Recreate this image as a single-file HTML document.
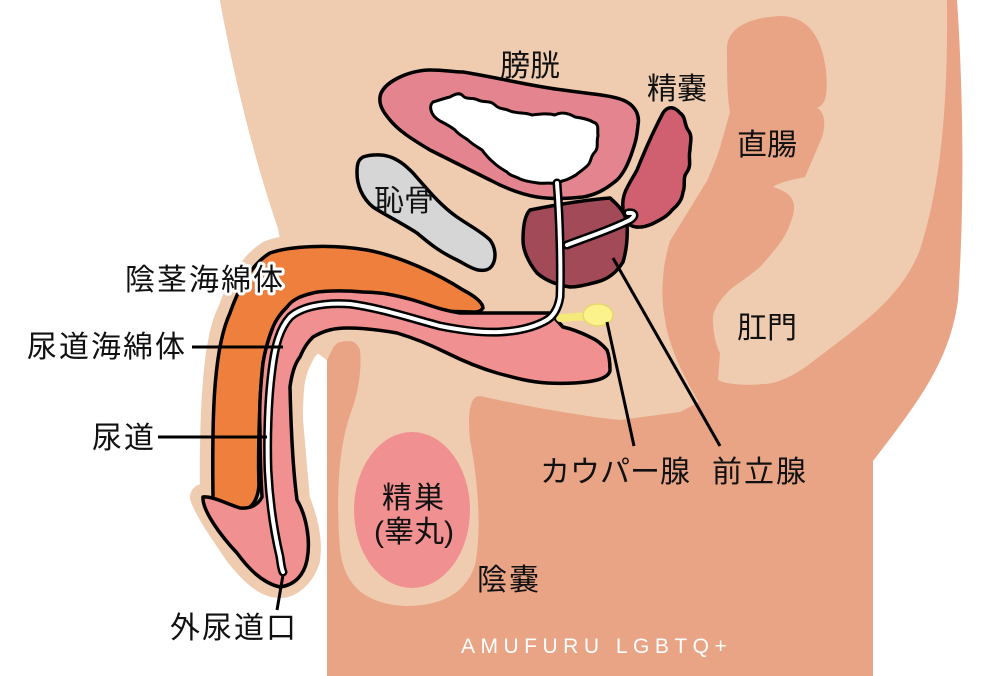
<!DOCTYPE html>
<html><head><meta charset="utf-8"><style>
html,body{margin:0;padding:0;background:#fff;}
svg{display:block;}
text{font-family:"Liberation Sans","Noto Sans CJK JP",sans-serif;font-size:30px;fill:#111;}
.wo{stroke:#fff;stroke-width:6px;paint-order:stroke;stroke-linejoin:round;}
</style></head><body>
<svg width="1000" height="676" viewBox="0 0 1000 676" xmlns="http://www.w3.org/2000/svg">
<path d="M220,0 L957,0 C963,90 965,200 958,300 C950,360 920,400 873,461 L873,676 L327,676 L327,360 L300,340 L278,228 C265,190 240,110 220,0 Z" fill="#e8a484"/>
<path d="M220,0 L947,0 C948,100 942,180 920,250 C900,300 860,325 807,366 C790,378 775,384 763,384 C745,386 725,384 718,380 C712,392 705,400 680,412 L620,420 C580,416 520,405 480,396 C468,396 468,420 470,440 C478,480 482,530 475,565 C465,595 440,606 405,606 C370,604 345,590 340,550 C336,500 338,450 350,415 C358,395 362,370 360,350 C356,338 340,336 333,348 L327,360 L300,340 L278,228 C265,190 240,110 220,0 Z" fill="#efcbb0"/>
<path d="M727,52 C725,30 745,18 780,16 C810,16 822,40 826,70 C828,95 826,104 817,108 C826,112 826,130 820,142 L805,177 C790,180 778,183 773,187 C790,192 797,200 793,215 C787,235 783,241 760,267 C745,280 730,288 727,293 C715,305 712,315 713,323 C714,340 718,350 720,353 L718,380 C712,392 705,400 700,404 C685,380 668,345 665,319 C661,300 661,270 670,241 C688,212 700,192 707,181 C714,165 720,150 722,140 C728,120 730,112 730,112 C727,95 727,70 727,52 Z" fill="#e8a484"/>
<ellipse cx="412" cy="510" rx="58" ry="78" fill="#f09090"/>
<g fill="#efcbb0" stroke="#efcbb0" stroke-width="26" stroke-linejoin="round">
<path d="M270,253 C290,246 330,244 367,250 C400,256 440,278 480,300 L483,308 L550,313 L590,337 L610,370 L597,380 L547,383 C520,378 470,360 447,353 C420,340 380,328 347,328 C320,330 305,345 300,357 C292,372 290,385 290,420 L297,500 C305,520 310,540 307,560 C300,580 285,586 280,585 C265,585 250,570 237,553 C225,535 210,515 203,497 L213,497 C212,420 215,340 230,313 C238,290 250,265 270,253 Z"/>
</g>
<path d="M270,253 C290,246 330,244 367,250 C400,256 440,275 463,290 C475,296 483,303 483,308 C480,313 473,312 473,312 L287,307 C275,318 268,335 263,363 C259,400 258,460 259,485 C258,500 252,509 240,512 C225,513 215,508 213,497 C212,420 213,350 230,313 C238,290 250,265 270,253 Z" fill="#ee7f3c" stroke="#000" stroke-width="3.5" stroke-linejoin="round"/>
<path d="M550,313 L460,313 C440,310 430,305 413,300 C395,295 380,292 363,292 C340,290 320,291 313,293 C300,296 292,300 287,307 C279,315 275,322 273,327 C268,340 265,350 263,363 C260,390 259,410 260,430 C260,455 261,480 262,497 C258,505 250,509 240,508 C225,503 212,496 203,497 C202,510 220,535 237,553 C248,568 262,583 280,587 C295,585 304,575 307,560 C311,540 306,515 297,500 C293,470 291,430 290,387 C292,372 296,362 300,357 C305,345 310,340 313,337 C325,330 335,328 347,328 C365,328 380,330 397,333 C420,340 435,347 447,353 C465,362 480,368 497,373 C515,378 530,382 547,383 C565,384 585,383 597,380 C605,378 610,374 610,370 C610,362 609,355 607,350 C602,344 597,340 590,337 C580,332 572,329 563,327 Z" fill="#f09090" stroke="#000" stroke-width="3.5" stroke-linejoin="round"/>
<path d="M380,97 C382,82 410,70 430,70 C445,70 455,72 463,72 C500,78 530,86 563,90 C590,94 610,95 623,100 C635,105 640,115 638,125 C637,135 636,140 635,143 C630,160 625,172 617,180 C605,190 595,195 583,197 C565,199 550,199 537,197 C520,194 505,188 490,180 C470,170 450,160 430,150 C410,138 398,130 390,120 C383,112 379,105 380,97 Z" fill="#e4848e" stroke="#000" stroke-width="3.5" stroke-linejoin="round"/>
<path d="M433,102 C440,100 445,98 450,97 C455,94 460,92 463,96 C467,100 472,97 478,100 C484,103 490,100 495,105 C500,110 505,108 510,111 C518,114 525,112 532,115 C540,114 548,113 555,115 C562,111 570,114 575,117 C582,118 588,119 593,122 C600,124 597,130 598,136 C596,142 599,147 595,152 C590,156 592,162 587,166 C583,170 579,172 576,175 C572,177 568,180 562,181 L558,184 C550,182 545,184 538,183 C530,182 525,181 520,179 C515,176 510,176 507,172 C500,168 497,166 493,162 C488,158 485,154 482,150 C476,146 472,144 468,140 C462,136 458,134 455,130 C450,126 446,124 440,121 C435,118 432,115 431,110 C430,106 431,104 433,102 Z" fill="#fff" stroke="#000" stroke-width="3" stroke-linejoin="round"/>
<path d="M363,157 C372,154 384,154 393,158 C402,162 408,168 413,173 C428,190 440,205 457,217 C470,226 482,232 490,240 C496,248 496,258 493,264 C490,270 485,271 478,270 C470,268 465,264 457,260 C440,252 430,244 417,233 C400,222 385,215 373,207 C362,198 357,185 357,173 C357,164 358,160 363,157 Z" fill="#d6d6d6" stroke="#000" stroke-width="3.5" stroke-linejoin="round"/>
<path d="M663,113 C668,105 675,107 680,113 C686,117 684,124 688,130 C693,136 690,143 690,150 C688,158 692,165 687,172 C682,178 686,185 683,192 C682,200 678,205 672,210 C668,216 660,220 652,224 C645,227 637,229 630,225 C624,221 622,215 623,208 C622,200 624,193 628,186 C632,178 634,176 637,170 C645,150 655,128 663,113 Z" fill="#d05f70" stroke="#000" stroke-width="3.5" stroke-linejoin="round"/>
<path d="M530,210 C555,205 585,200 610,198 C618,205 625,212 627,223 C628,240 626,252 623,262 C615,275 605,280 597,282 C585,285 578,287 570,287 C557,285 545,280 537,273 C528,262 523,250 523,240 C523,225 525,215 530,210 Z" fill="#a34a58" stroke="#000" stroke-width="3.5" stroke-linejoin="round"/>
<path d="M560,318 L590,316" stroke="#f5e97a" stroke-width="8" stroke-linecap="round"/>
<ellipse cx="598" cy="315" rx="15" ry="11" fill="#fbf28c" stroke="#e6d86a" stroke-width="1.5"/>
<g fill="none" stroke-linecap="round" stroke-linejoin="round">
<path d="M557,183 C560,220 561,270 560,297 C558,310 552,317 547,320 C535,327 520,331 500,332 C480,333 460,330 440,326 C410,318 380,308 350,304 C320,302 300,308 290,317 C280,328 275,345 272,370 C268,400 267,440 268,470 C270,510 276,540 280,557 C281,565 282,570 283,572" stroke="#000" stroke-width="9"/>
<path d="M567,245 C585,238 610,230 630,220 C636,216 635,212 628,213" stroke="#000" stroke-width="9"/>
<path d="M557,183 C560,220 561,270 560,297 C558,310 552,317 547,320 C535,327 520,331 500,332 C480,333 460,330 440,326 C410,318 380,308 350,304 C320,302 300,308 290,317 C280,328 275,345 272,370 C268,400 267,440 268,470 C270,510 276,540 280,557 C281,565 282,570 283,572" stroke="#fff" stroke-width="4"/>
<path d="M567,245 C585,238 610,230 630,220 C636,216 635,212 628,213" stroke="#fff" stroke-width="4"/>
</g>
<g stroke="#000" stroke-width="3" fill="none">
<line x1="192" y1="347" x2="283" y2="347"/>
<line x1="158" y1="437" x2="267" y2="437"/>
<line x1="283" y1="575" x2="277" y2="610"/>
<line x1="607" y1="322" x2="634" y2="446"/>
<line x1="613" y1="258" x2="720" y2="446"/>
</g>
<text x="500" y="76">膀胱</text>
<text x="647" y="99">精嚢</text>
<text x="737" y="155">直腸</text>
<text x="374" y="211">恥骨</text>
<text x="737" y="338">肛門</text>
<text x="125" y="290" class="wo" letter-spacing="2">陰茎海綿体</text>
<text x="27" y="357" letter-spacing="2">尿道海綿体</text>
<text x="92" y="448" letter-spacing="2">尿道</text>
<text x="170" y="638" letter-spacing="2">外尿道口</text>
<text x="540" y="482">カウパー腺</text>
<text x="712" y="482" letter-spacing="2">前立腺</text>
<text x="382" y="508" letter-spacing="2">精巣</text>
<text x="374" y="542">(睾丸)</text>
<text x="477" y="590" letter-spacing="2">陰嚢</text>
<text x="461" y="653" style="font-size:21px;fill:#fff;letter-spacing:5.5px">AMUFURU LGBTQ+</text>
</svg>
</body></html>
